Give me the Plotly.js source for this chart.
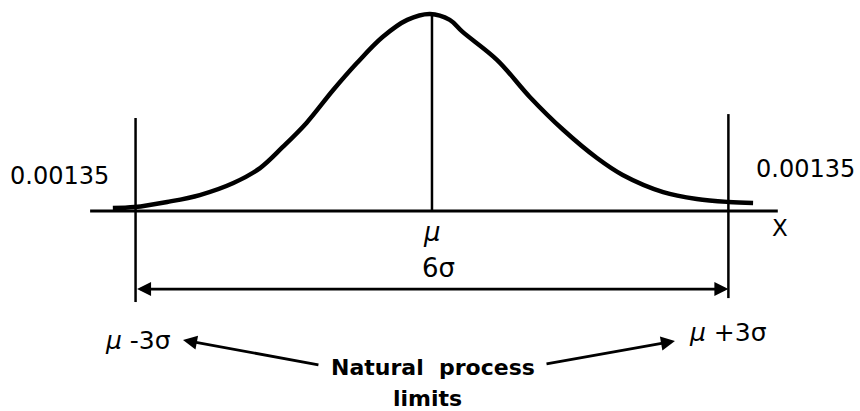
<!DOCTYPE html>
<html>
<head>
<meta charset="utf-8">
<script src="https://cdn.plot.ly/plotly-3.0.1.min.js"></script>
<style>html,body{margin:0;padding:0;background:#fff;}#chart{width:860px;height:411px;}</style>
</head>
<body>
<div id="chart"></div>
<script>
// Curve: x in sigma units from the mean, y as height relative to the peak
var curveX = [-3.23, -3.01, -2.68, -2.35, -2.01, -1.74, -1.51, -1.27, -1.00, -0.76, -0.50, -0.25, -0.02,
              0.18, 0.31, 0.66, 0.99, 1.33, 1.67, 1.93, 2.34, 2.68, 3.00, 3.25];
var curveY = [0.015, 0.020, 0.046, 0.081, 0.142, 0.218, 0.325, 0.447, 0.614, 0.751, 0.883, 0.970, 1.000,
              0.970, 0.909, 0.766, 0.579, 0.411, 0.269, 0.183, 0.096, 0.061, 0.046, 0.041];
var meanX = 0;
var lowerLimit = -3;
var upperLimit = 3;
var tailLabel = "0.00135";
var axisLabel = "X";
var widthLabel = "6σ";
var lowerLabel = "<i>μ</i> -3σ";
var upperLabel = "<i>μ</i> +3σ";
var meanLabel = "<i>μ</i>";
var captionLines = ["Natural  process", "limits"];

var black = "#000";
var font = "DejaVu Sans";

var traces = [
  {x: curveX, y: curveY, mode: "lines", line: {color: black, width: 4.5, shape: "spline", smoothing: 1}, hoverinfo: "skip"},
  {x: [-3.46, 3.50], y: [0, 0], mode: "lines", line: {color: black, width: 3}, hoverinfo: "skip"},
  {x: [lowerLimit, lowerLimit, null, upperLimit, upperLimit, null, meanX, meanX],
   y: [0.472, -0.462, null, 0.492, -0.442, null, 0, 1.0],
   mode: "lines", line: {color: black, width: 2.5}, hoverinfo: "skip"}
];

function label(text, x, y, size, bold) {
  return {text: bold ? "<b>" + text + "</b>" : text, x: x, y: y, xref: "x", yref: "y",
          showarrow: false, xanchor: "center", yanchor: "middle",
          font: {family: font, size: size, color: black}};
}
function arrow(x, y, ax, ay, both) {
  return {text: "", x: x, y: y, ax: ax, ay: ay, xref: "x", yref: "y", axref: "x", ayref: "y",
          showarrow: true, arrowhead: 2, arrowsize: 1, arrowwidth: 2.8, arrowcolor: black,
          arrowside: both ? "end+start" : "end", standoff: 0, startstandoff: 0};
}

var annotations = [
  label(tailLabel, -3.765, 0.178, 24, false),
  label(tailLabel, 3.785, 0.213, 24, false),
  label(axisLabel, 3.522, -0.086, 23, false),
  label(meanLabel, 0, -0.107, 26, false),
  label(widthLabel, 0.071, -0.289, 26, false),
  label(lowerLabel, -2.976, -0.655, 25, false),
  label(upperLabel, 2.996, -0.619, 25, false),
  label(captionLines[0], 0.01, -0.792, 22, true),
  label(captionLines[1], -0.05, -0.949, 22, true),
  arrow(upperLimit, -0.396, lowerLimit, -0.396, true),
  arrow(-2.52, -0.655, -1.134, -0.782, false),
  arrow(2.459, -0.660, 1.144, -0.777, false)
];

var layout = {
  width: 860, height: 411,
  margin: {l: 0, r: 0, t: 0, b: 0},
  paper_bgcolor: "#fff", plot_bgcolor: "#fff",
  showlegend: false,
  xaxis: {range: [-4.372, 4.332], visible: false, fixedrange: true},
  yaxis: {range: [-1.015, 1.071], visible: false, fixedrange: true},
  annotations: annotations
};

Plotly.newPlot("chart", traces, layout, {staticPlot: true, displayModeBar: false});
</script>
</body>
</html>
